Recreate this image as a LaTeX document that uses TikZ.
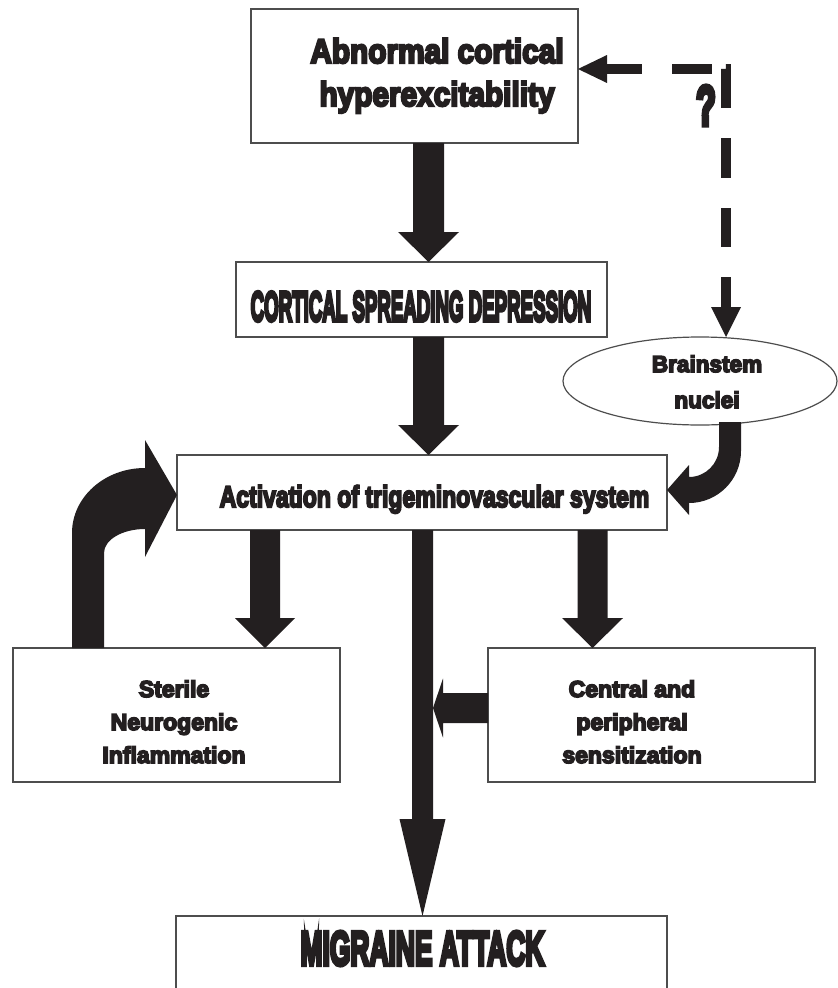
\documentclass[tikz,border=0pt]{standalone}
\usepackage{fontspec}
\usepackage{graphicx}
\usetikzlibrary{calc,shapes.geometric}
\newfontfamily\fblack{Liberation Sans}[BoldFeatures={FakeBold=7}]
\newfontfamily\fimpact{Liberation Sans}[BoldFeatures={FakeBold=9}]
\definecolor{ink}{HTML}{231F20}
\definecolor{frame}{HTML}{4D4D4D}
\newcommand\sx[2]{\scalebox{#1}[1]{#2}}
% block arrow pointing down: #1 start, #2 tip, #3 half shaft, #4 half head, #5 head length
\newcommand\downblock[5]{\fill[blk] let \p1=(#1), \p2=(#2) in
  (\x2-#3pt,\y1) -- (\x2+#3pt,\y1) -- (\x2+#3pt,\y2+#5pt) -- (\x2+#4pt,\y2+#5pt) -- (\x2,\y2)
  -- (\x2-#4pt,\y2+#5pt) -- (\x2-#3pt,\y2+#5pt) -- cycle;}
% block arrow pointing left
\newcommand\leftblock[5]{\fill[blk] let \p1=(#1), \p2=(#2) in
  (\x1,\y2+#3pt) -- (\x1,\y2-#3pt) -- (\x2+#5pt,\y2-#3pt) -- (\x2+#5pt,\y2-#4pt) -- (\x2,\y2)
  -- (\x2+#5pt,\y2+#4pt) -- (\x2+#5pt,\y2+#3pt) -- cycle;}
\begin{document}
\begin{tikzpicture}[x=1pt,y=-1pt,
  box/.style={draw=frame, line width=1.2pt, fill=white, inner sep=0pt, outer sep=0pt},
  lbl/.style={text=ink, anchor=base, align=center, inner sep=0pt},
  blk/.style={fill=ink},
  dashlink/.style={draw=ink, line width=10pt,
    dash pattern=on 35pt off 30pt on 40pt off 14pt on 39pt off 30pt on 40pt off 30pt on 39pt off 30pt on 30pt off 60pt},
  fblk/.style={font=\fblack\bfseries\fontsize{23}{33}\selectfont},
]
\clip (0,0) rectangle (838,988);
\fill[white] (0,0) rectangle (838,988);

% boxes
\node[box, minimum width=327pt, minimum height=134pt] (b1) at (414.5,76) {};
\node[box, minimum width=371pt, minimum height=75pt] (b2) at (421.5,299.5) {};
\node[box, minimum width=490pt, minimum height=75pt] (b3) at (422,492.5) {};
\node[box, minimum width=327pt, minimum height=134pt] (b4) at (176.5,715) {};
\node[box, minimum width=327pt, minimum height=134pt] (b5) at (651.5,715) {};
\node[box, minimum width=491pt, minimum height=94pt] (b6) at (421.5,963) {};
\node[box, ellipse, minimum width=274pt, minimum height=88pt] (ell) at (700,381) {};

% texts (base anchor of a multi-line node = last line's baseline)
\node[lbl, font=\fblack\bfseries\fontsize{34}{43}\selectfont] (t1) at (437,106)
  {\sx{0.876}{Abnormal cortical}\\\sx{0.876}{hyperexcitability}};
\node[lbl, font=\fimpact\bfseries\fontsize{42}{42}\selectfont] (t2) at (421,321)
  {\sx{0.445}{CORTICAL SPREADING DEPRESSION}};
\node[lbl, font=\fblack\bfseries\fontsize{23}{36}\selectfont] (t7) at (707,408)
  {\sx{0.98}{Brainstem}\\\sx{0.98}{nuclei}};
\node[lbl, font=\fblack\bfseries\fontsize{30}{30}\selectfont] (t3) at (434.5,507)
  {\sx{0.767}{Activation of trigeminovascular system}};
\node[lbl, fblk] (t4) at (174,763) {Sterile\\Neurogenic\\Inflammation};
\node[lbl, fblk] (t5) at (632,763) {Central and\\peripheral\\sensitization};
\node[lbl, font=\fimpact\bfseries\fontsize{48}{48}\selectfont] (t6) at (422.5,965)
  {\sx{0.55}{MIGRAINE ATTACK}};
\node[lbl, font=\fimpact\bfseries\fontsize{56}{56}\selectfont] (q) at (706,125) {\sx{0.58}{?}};

% arrow axes
\coordinate (xa) at (428.5,0);
\coordinate (x3) at (265,0);
\coordinate (x4) at (592.5,0);
\coordinate (xm) at (422.5,0);
\coordinate (y6) at (0,708);
\coordinate (m6) at (433,708);

\downblock{b1.south -| xa}{b2.north -| xa}{15.5}{30.5}{30}
\downblock{b2.south -| xa}{b3.north -| xa}{15.5}{30.5}{30}
\downblock{b3.south -| x3}{b4.north -| x3}{15}{30}{30}
\downblock{b3.south -| x4}{b5.north -| x4}{15}{30.5}{30}
\downblock{b3.south -| xm}{b6.north -| xm}{10.5}{23}{97}
\leftblock{b5.west |- y6}{m6}{15}{29.5}{10}

% curved arrow: Sterile -> Activation
\fill[blk] (b4.north -| 72,0) -- (72,533) .. controls (72,497) and (104.7,468) .. (145,468)
  -- (145,440) -- (b3.west |- 0,495) -- (145,557) -- (145,529)
  .. controls (122.4,529) and (104,539.7) .. (104,553) -- (b4.north -| 104,0) -- cycle;

% curved arrow: Brainstem -> Activation
\fill[blk] (741,422) -- (741,451) .. controls (741,479.7) and (717.7,503) .. (689,503)
  -- (689,515) -- (b3.east |- 0,490) -- (689,465) -- (689,477)
  .. controls (705.6,477) and (719,463.6) .. (719,447) -- (719,422) -- cycle;

% dashed double arrow with question mark
\coordinate (d1) at (607,69);
\coordinate (d2) at (726,69);
\coordinate (d3) at (726,307);
\draw[dashlink] (d1) -- (d2) -- (d3);
\fill[blk] (b1.east |- d1) -- (607,55) -- (607,83) -- cycle;
\fill[blk] (ell.north -| d3) -- (711,307) -- (741,307) -- cycle;
\end{tikzpicture}
\end{document}
